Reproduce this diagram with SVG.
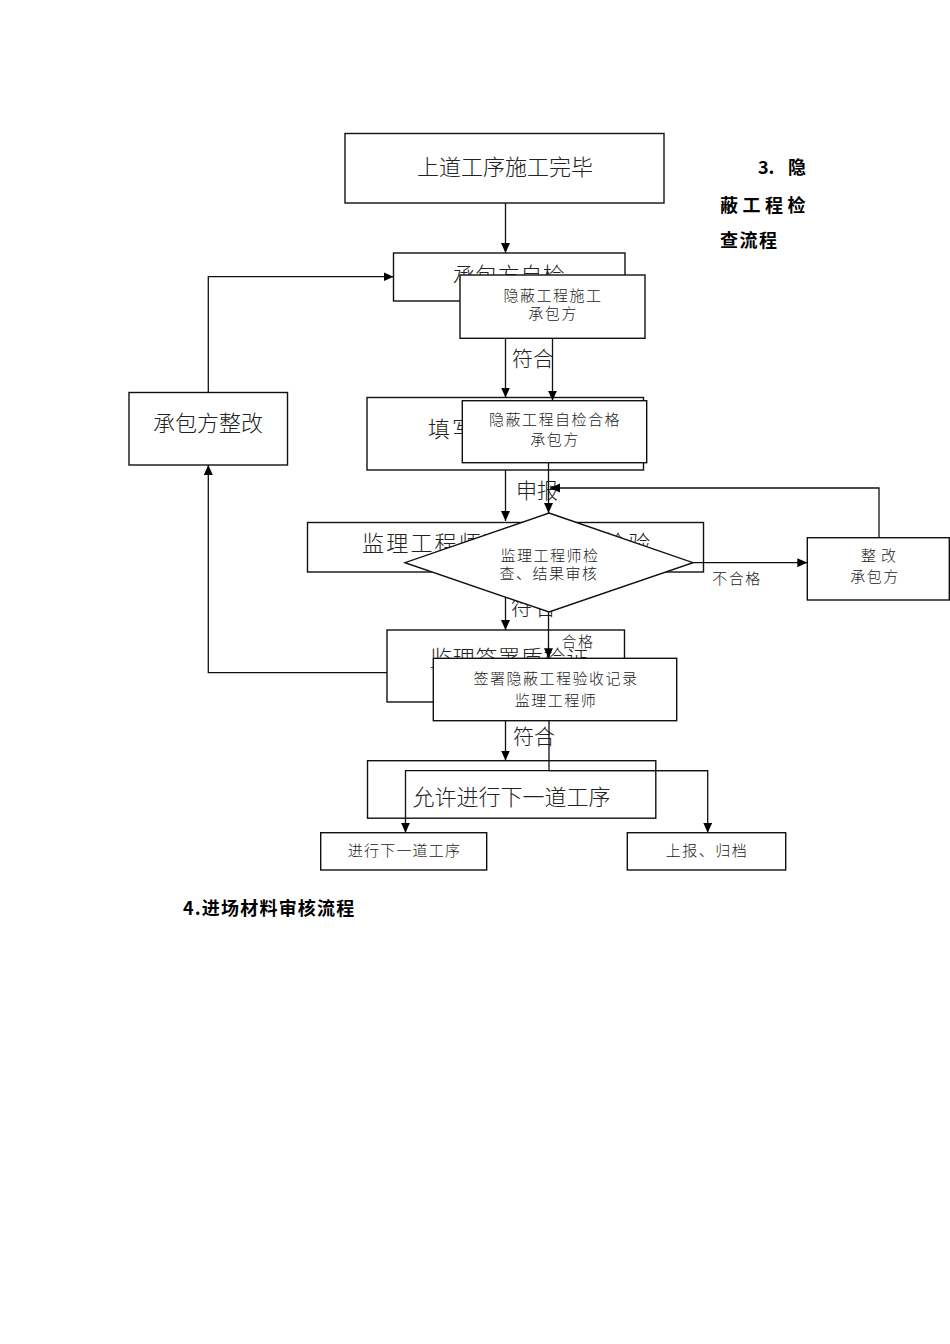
<svg xmlns="http://www.w3.org/2000/svg" width="950" height="1344" viewBox="0 0 950 1344">
<style>
  .bx { fill: #fff; stroke: #111; stroke-width: 1.4; }
  .ln { fill: none; stroke: #111; stroke-width: 1.3; }
  .arr { marker-end: url(#ah); }
  text { font-family: "Noto Sans CJK SC", "Noto Sans", sans-serif; fill: #222; font-weight: 300; }
  .big { font-size: 22px; }
  .sm { font-size: 15px; letter-spacing: 1.5px; }
  .head { font-size: 18px; font-weight: bold; fill: #000; }
  .mid { text-anchor: middle; }
</style>
<defs>
  <marker id="ah" markerUnits="userSpaceOnUse" markerWidth="10" markerHeight="10" refX="10" refY="4.5" orient="auto">
    <path d="M0,0 L10,4.5 L0,9 z" fill="#000"/>
  </marker>
</defs>
<rect width="950" height="1344" fill="#fff"/>

<!-- headings -->
<g id="heading3">
  <text class="head" x="758" y="174">3.</text>
  <text class="head" x="788" y="174">隐</text>
  <text class="head" x="720" y="211.5" style="letter-spacing:4.5px">蔽工程检</text>
  <text class="head" x="720" y="246.5" style="letter-spacing:1.5px">查流程</text>
</g>
<g id="heading4">
  <text class="head" x="183" y="915" style="letter-spacing:1.2px">4.进场材料审核流程</text>
</g>

<!-- back diagram: nodes -->
<g id="n_top">
  <rect class="bx" x="345" y="133.5" width="319" height="69.5"/>
  <text class="big mid" x="505" y="175">上道工序施工完毕</text>
</g>
<g id="n_selfcheck">
  <rect class="bx" x="393.5" y="253" width="231.5" height="48"/>
  <text class="big mid" x="509" y="283" style="letter-spacing:0.5px">承包方自检</text>
</g>
<g id="n_rectify">
  <rect class="bx" x="129" y="392.5" width="158.5" height="72.5"/>
  <text class="big mid" x="208" y="431">承包方整改</text>
</g>
<g id="n_fill">
  <rect class="bx" x="367" y="397.5" width="276.5" height="72.5"/>
  <text class="big" x="428" y="437" style="letter-spacing:2px">填写质量报验单</text>
</g>
<g id="n_inspect">
  <rect class="bx" x="307.5" y="522.5" width="396" height="49.5"/>
  <text class="big" x="362" y="551" style="letter-spacing:2.2px">监理工程师现场抽查、检验</text>
</g>
<g id="n_sign">
  <rect class="bx" x="387" y="630" width="237.5" height="72"/>
  <text class="big" x="430" y="666" style="letter-spacing:0.7px">监理签署质检证</text>
</g>
<g id="n_allow">
  <rect class="bx" x="367.5" y="760.7" width="288.3" height="57.5"/>
  <text class="big mid" x="511.5" y="805">允许进行下一道工序</text>
</g>

<!-- back diagram: connectors and labels -->
<g id="back_connectors">
  <path class="ln arr" d="M505.5,203 L505.5,253"/>
  <path class="ln arr" d="M505.5,301 L505.5,397.5"/>
  <path class="ln arr" d="M505.5,470 L505.5,521"/>
  <path class="ln arr" d="M505.5,572 L505.5,630"/>
  <path class="ln arr" d="M505.5,702 L505.5,760.5"/>
  <path class="ln arr" d="M208.3,392.5 L208.3,276.7 L393.5,276.7"/>
  <path class="ln arr" d="M387,672.7 L208.3,672.7 L208.3,465"/>
  <text class="big mid" x="533" y="366" style="font-size:21px">符合</text>
  <text class="big mid" x="537" y="498" style="font-size:21px">申报</text>
  <text class="big mid" x="535" y="615" style="font-size:21px;letter-spacing:3px">符合</text>
  <text class="big mid" x="534" y="744" style="font-size:21px">符合</text>
</g>

<!-- front diagram: nodes -->
<g id="f_construct">
  <rect class="bx" x="460" y="275" width="185" height="63.3"/>
  <text class="sm mid" x="553" y="300.5">隐蔽工程施工</text>
  <text class="sm mid" x="553" y="318.5">承包方</text>
</g>
<g id="f_selfok">
  <rect class="bx" x="462.3" y="400.7" width="184.4" height="62"/>
  <text class="sm mid" x="555" y="424.5">隐蔽工程自检合格</text>
  <text class="sm mid" x="555" y="444.5">承包方</text>
</g>
<g id="f_decision">
  <polygon class="bx" points="549,513 693,562.7 549,612 405,562.7"/>
  <text class="sm mid" x="550" y="560.5">监理工程师检</text>
  <text class="sm mid" x="549" y="578.8">查、结果审核</text>
</g>
<g id="f_rectify">
  <rect class="bx" x="807.3" y="537.7" width="142" height="62.3"/>
  <text class="sm mid" x="881" y="560.5" style="letter-spacing:5px">整改</text>
  <text class="sm mid" x="875" y="582">承包方</text>
</g>
<g id="f_record">
  <rect class="bx" x="433.3" y="658.3" width="243.4" height="62.4"/>
  <text class="sm mid" x="556" y="683.8">签署隐蔽工程验收记录</text>
  <text class="sm mid" x="556" y="705.5">监理工程师</text>
</g>
<g id="f_next">
  <rect class="bx" x="320.7" y="832.7" width="166" height="37.3"/>
  <text class="sm mid" x="404.5" y="855.5" style="letter-spacing:1.2px">进行下一道工序</text>
</g>
<g id="f_archive">
  <rect class="bx" x="627.3" y="832.7" width="158.4" height="37.3"/>
  <text class="sm mid" x="707" y="855.5">上报、归档</text>
</g>

<!-- front diagram: connectors and labels -->
<g id="front_connectors">
  <path class="ln arr" d="M552.5,338.3 L552.5,400.7"/>
  <path class="ln arr" d="M548.5,462.7 L548.5,513"/>
  <path class="ln arr" d="M879,537.7 L879,488 L550,488"/>
  <path class="ln arr" d="M693,562.7 L807.3,562.7"/>
  <path class="ln arr" d="M548.5,612 L548.5,658.3"/>
  <path class="ln" d="M549,720.7 L549,770.7"/>
  <path class="ln arr" d="M707.7,770.7 L405.5,770.7 L405.5,832.7"/>
  <path class="ln arr" d="M549,770.7 L707.7,770.7 L707.7,832.7"/>
  <text class="sm mid" x="737" y="584">不合格</text>
  <text class="sm mid" x="578" y="646.5">合格</text>
</g>
</svg>
